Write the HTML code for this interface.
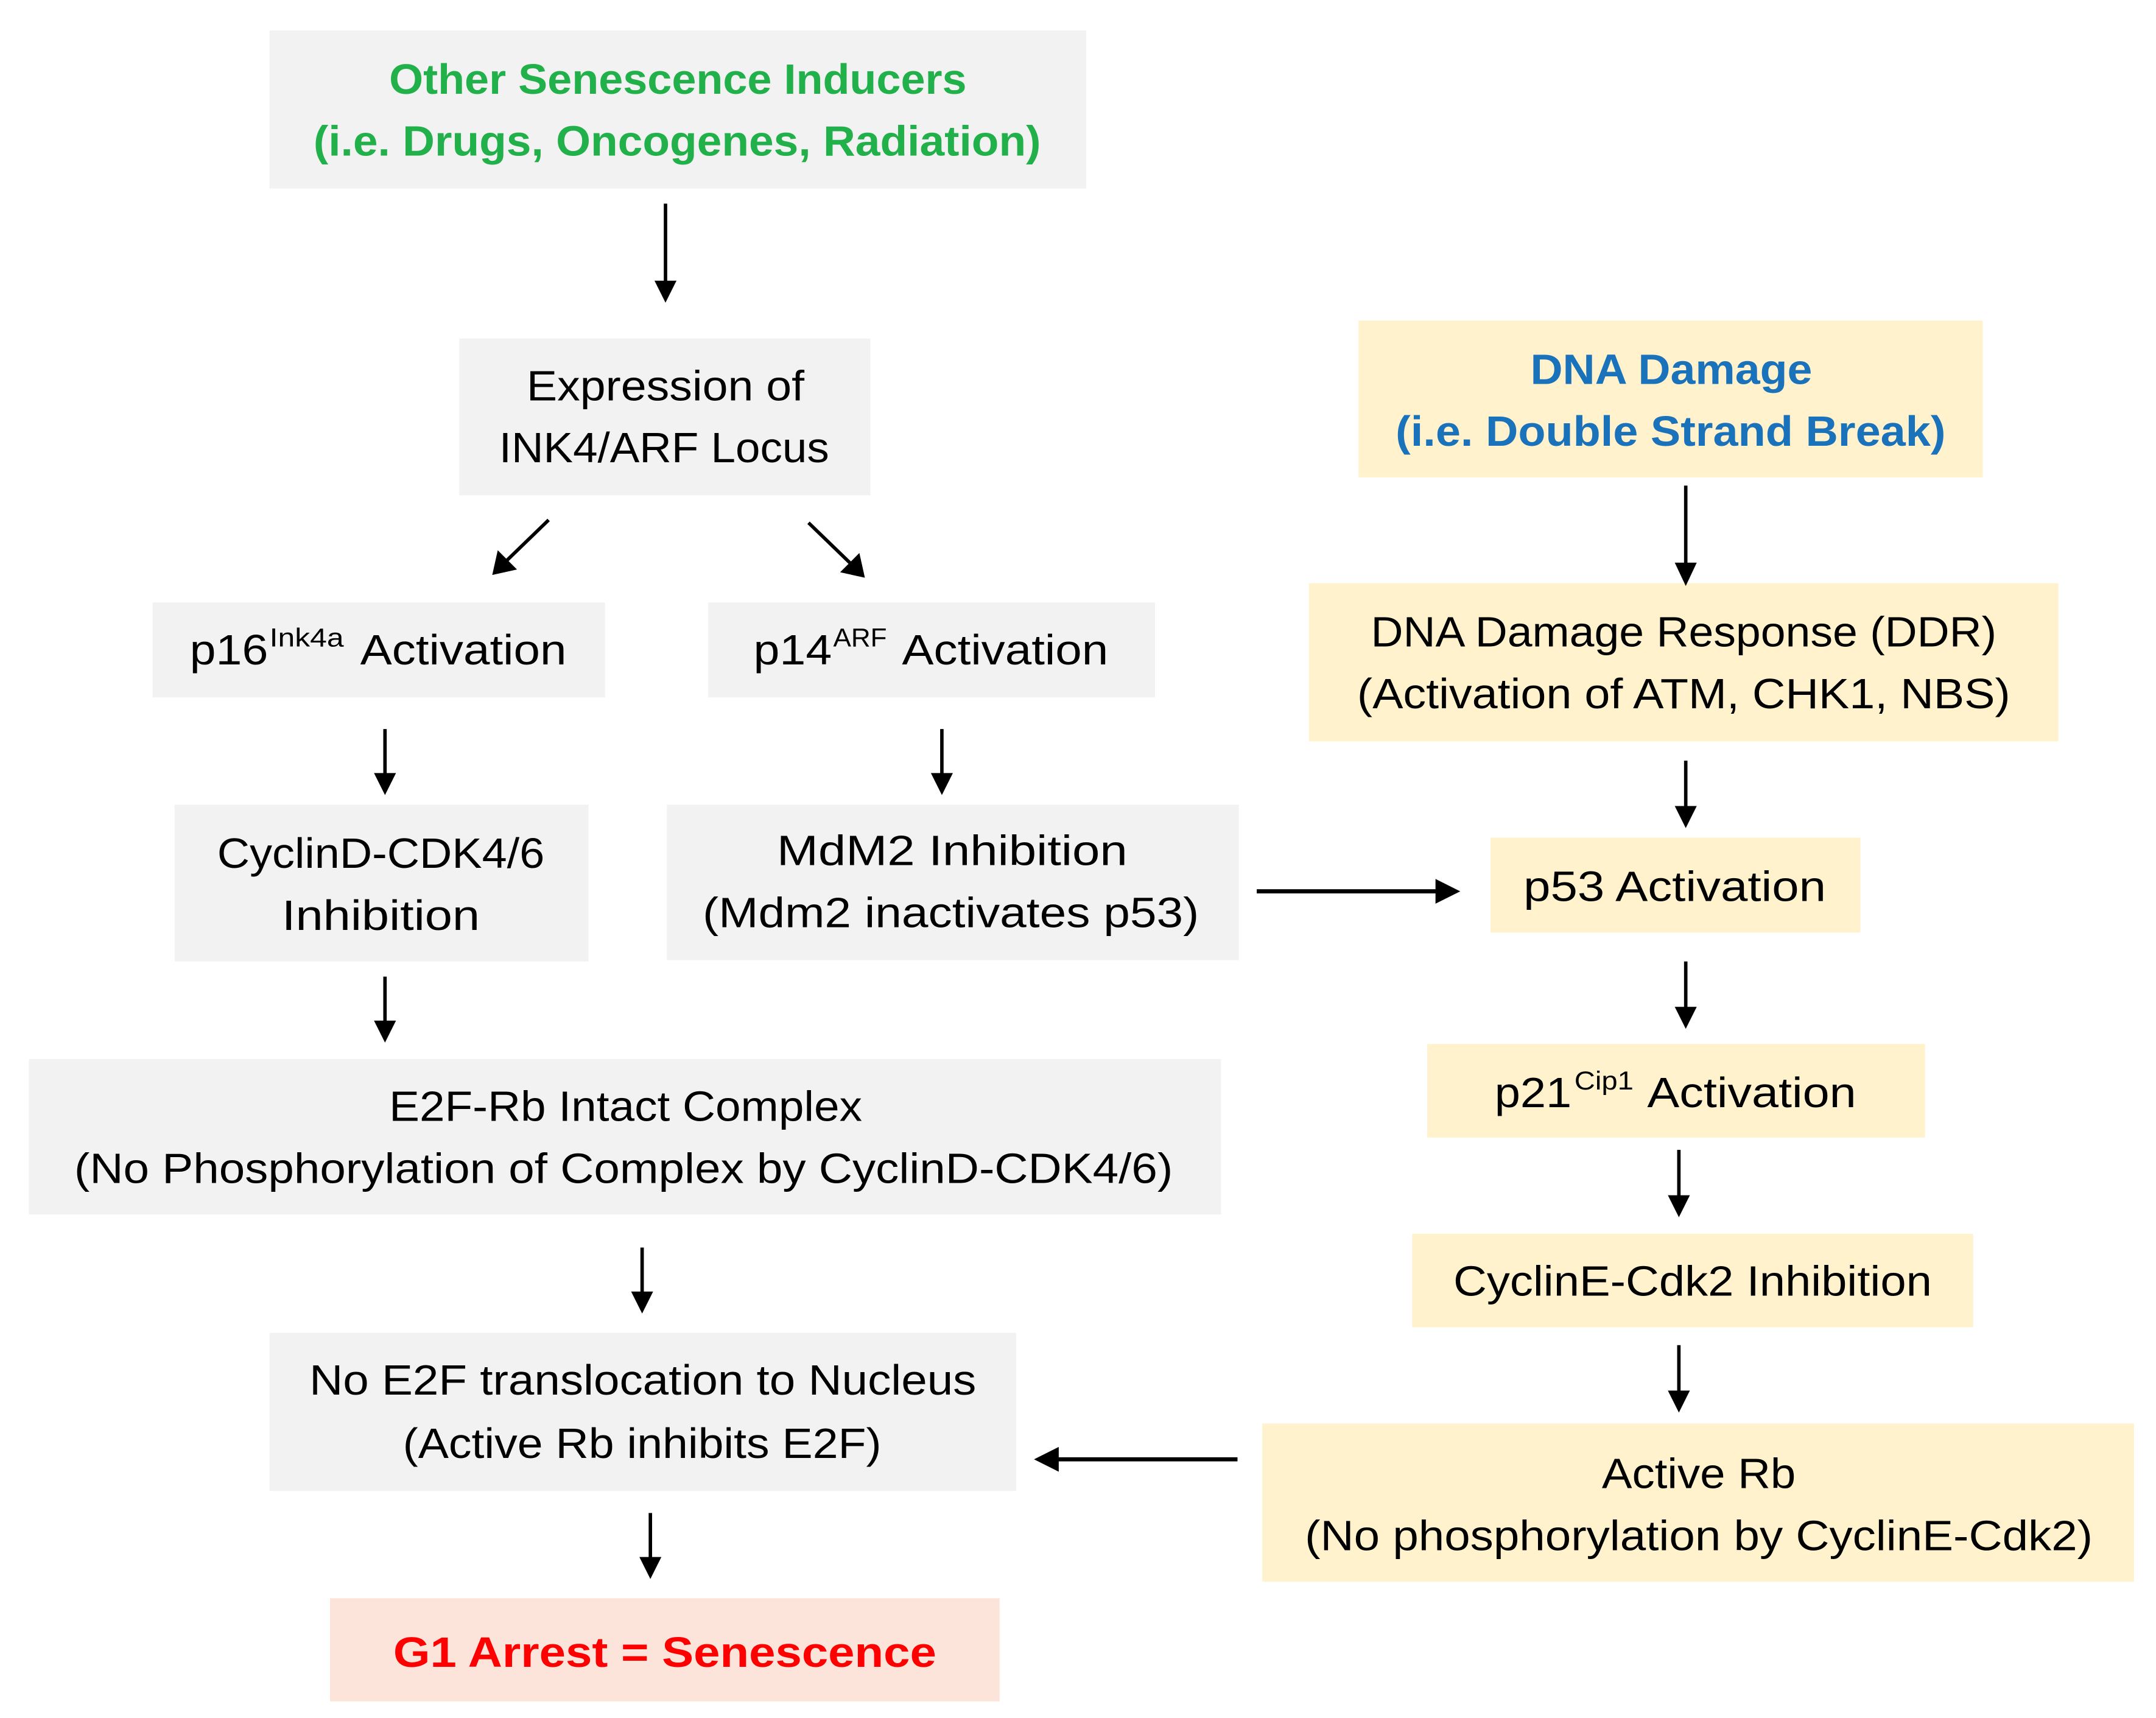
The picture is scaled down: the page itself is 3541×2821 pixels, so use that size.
<!DOCTYPE html>
<html><head><meta charset="utf-8"><style>
html,body{margin:0;padding:0;background:#fff}
svg{display:block}
text{font-family:"Liberation Sans",sans-serif;font-size:31px;fill:#000}
.b{font-weight:bold}
.s{font-size:19px}
</style></head><body>
<svg width="3541" height="2821" viewBox="0 0 1568 1249" xmlns="http://www.w3.org/2000/svg">
<defs>
<marker id="a" markerWidth="8" markerHeight="8" refX="7" refY="4" orient="auto" markerUnits="userSpaceOnUse" viewBox="0 0 8 8">
</marker>
</defs>
<rect width="1568" height="1249" fill="#fff"/>
<!-- boxes -->
<g fill="#f2f2f2">
<rect x="196" y="22" width="594" height="115"/>
<rect x="334" y="246" width="299" height="114"/>
<rect x="111" y="438" width="329" height="69"/>
<rect x="515" y="438" width="325" height="69"/>
<rect x="127" y="585" width="301" height="114"/>
<rect x="485" y="585" width="416" height="113"/>
<rect x="21" y="770" width="867" height="113"/>
<rect x="196" y="969" width="543" height="115"/>
</g>
<rect x="240" y="1162" width="487" height="75" fill="#fde4da"/>
<g fill="#fff2cc">
<rect x="988" y="233" width="454" height="114"/>
<rect x="952" y="424" width="545" height="115"/>
<rect x="1084" y="609" width="269" height="69"/>
<rect x="1038" y="759" width="362" height="68"/>
<rect x="1027" y="897" width="408" height="68"/>
<rect x="918" y="1035" width="634" height="115"/>
</g>
<!-- text -->
<g lengthAdjust="spacingAndGlyphs">
<text class="b" x="283" y="68" textLength="420" lengthAdjust="spacingAndGlyphs" fill="#22b04b" style="fill:#22b04b">Other Senescence Inducers</text>
<text class="b" x="228" y="113" textLength="529" lengthAdjust="spacingAndGlyphs" style="fill:#22b04b">(i.e. Drugs, Oncogenes, Radiation)</text>
<text x="383" y="291" textLength="202" lengthAdjust="spacingAndGlyphs">Expression of</text>
<text x="363" y="336" textLength="240" lengthAdjust="spacingAndGlyphs">INK4/ARF Locus</text>
<text x="138" y="483" textLength="57" lengthAdjust="spacingAndGlyphs">p16</text>
<text class="s" x="196" y="470" textLength="54" lengthAdjust="spacingAndGlyphs">Ink4a</text>
<text x="262" y="483" textLength="150" lengthAdjust="spacingAndGlyphs">Activation</text>
<text x="548" y="483" textLength="57" lengthAdjust="spacingAndGlyphs">p14</text>
<text class="s" x="606" y="470" textLength="39" lengthAdjust="spacingAndGlyphs">ARF</text>
<text x="656" y="483" textLength="150" lengthAdjust="spacingAndGlyphs">Activation</text>
<text x="158" y="631" textLength="238" lengthAdjust="spacingAndGlyphs">CyclinD-CDK4/6</text>
<text x="205" y="676" textLength="144" lengthAdjust="spacingAndGlyphs">Inhibition</text>
<text x="565" y="629" textLength="255" lengthAdjust="spacingAndGlyphs">MdM2 Inhibition</text>
<text x="511" y="674" textLength="361" lengthAdjust="spacingAndGlyphs">(Mdm2 inactivates p53)</text>
<text x="283" y="815" textLength="344" lengthAdjust="spacingAndGlyphs">E2F-Rb Intact Complex</text>
<text x="54" y="860" textLength="799" lengthAdjust="spacingAndGlyphs">(No Phosphorylation of Complex by CyclinD-CDK4/6)</text>
<text x="225" y="1014" textLength="485" lengthAdjust="spacingAndGlyphs">No E2F translocation to Nucleus</text>
<text x="293" y="1060" textLength="348" lengthAdjust="spacingAndGlyphs">(Active Rb inhibits E2F)</text>
<text class="b" x="286" y="1212" textLength="395" lengthAdjust="spacingAndGlyphs" style="fill:#ff0000">G1 Arrest = Senescence</text>
<text class="b" x="1113" y="279" textLength="205" lengthAdjust="spacingAndGlyphs" style="fill:#1a72bb">DNA Damage</text>
<text class="b" x="1015" y="324" textLength="400" lengthAdjust="spacingAndGlyphs" style="fill:#1a72bb">(i.e. Double Strand Break)</text>
<text x="997" y="470" textLength="455" lengthAdjust="spacingAndGlyphs">DNA Damage Response (DDR)</text>
<text x="987" y="515" textLength="475" lengthAdjust="spacingAndGlyphs">(Activation of ATM, CHK1, NBS)</text>
<text x="1108" y="655" textLength="220" lengthAdjust="spacingAndGlyphs">p53 Activation</text>
<text x="1087" y="805" textLength="56" lengthAdjust="spacingAndGlyphs">p21</text>
<text class="s" x="1145" y="792" textLength="43" lengthAdjust="spacingAndGlyphs">Cip1</text>
<text x="1198" y="805" textLength="152" lengthAdjust="spacingAndGlyphs">Activation</text>
<text x="1057" y="942" textLength="348" lengthAdjust="spacingAndGlyphs">CyclinE-Cdk2 Inhibition</text>
<text x="1165" y="1082" textLength="141" lengthAdjust="spacingAndGlyphs">Active Rb</text>
<text x="949" y="1127" textLength="573" lengthAdjust="spacingAndGlyphs">(No phosphorylation by CyclinE-Cdk2)</text>
</g>
<!-- arrows -->
<g stroke="#000" stroke-width="2.5" fill="none">
<line x1="484" y1="148" x2="484" y2="206"/>
<line x1="399" y1="378" x2="368" y2="408"/>
<line x1="588" y1="380" x2="619" y2="410"/>
<line x1="280" y1="530" x2="280" y2="564"/>
<line x1="685" y1="530" x2="685" y2="564"/>
<line x1="280" y1="710" x2="280" y2="744"/>
<line x1="467" y1="907" x2="467" y2="941"/>
<line x1="473" y1="1100" x2="473" y2="1134"/>
<line x1="1226" y1="353" x2="1226" y2="411"/>
<line x1="1226" y1="553" x2="1226" y2="588"/>
<line x1="1226" y1="699" x2="1226" y2="734"/>
<line x1="1221" y1="836" x2="1221" y2="871"/>
<line x1="1221" y1="978" x2="1221" y2="1013"/>
<line x1="914" y1="648" x2="1046" y2="648" stroke-width="3"/>
<line x1="900" y1="1061" x2="768" y2="1061" stroke-width="3"/>
</g>
<g fill="#000">
<polygon points="476,204 492,204 484,220"/>
<polygon points="272,562 288,562 280,578"/>
<polygon points="677,562 693,562 685,578"/>
<polygon points="272,742 288,742 280,758"/>
<polygon points="459,939 475,939 467,955"/>
<polygon points="465,1132 481,1132 473,1148"/>
<polygon points="1218,409 1234,409 1226,426"/>
<polygon points="1218,586 1234,586 1226,602"/>
<polygon points="1218,732 1234,732 1226,748"/>
<polygon points="1213,869 1229,869 1221,885"/>
<polygon points="1213,1011 1229,1011 1221,1027"/>
<polygon points="1044,639 1044,657 1062,648"/>
<polygon points="770,1052 770,1070 752,1061"/>
<polygon points="358,418 362,400 376,414"/>
<polygon points="629,420 611,416 625,402"/>
</g>
</svg>
</body></html>
